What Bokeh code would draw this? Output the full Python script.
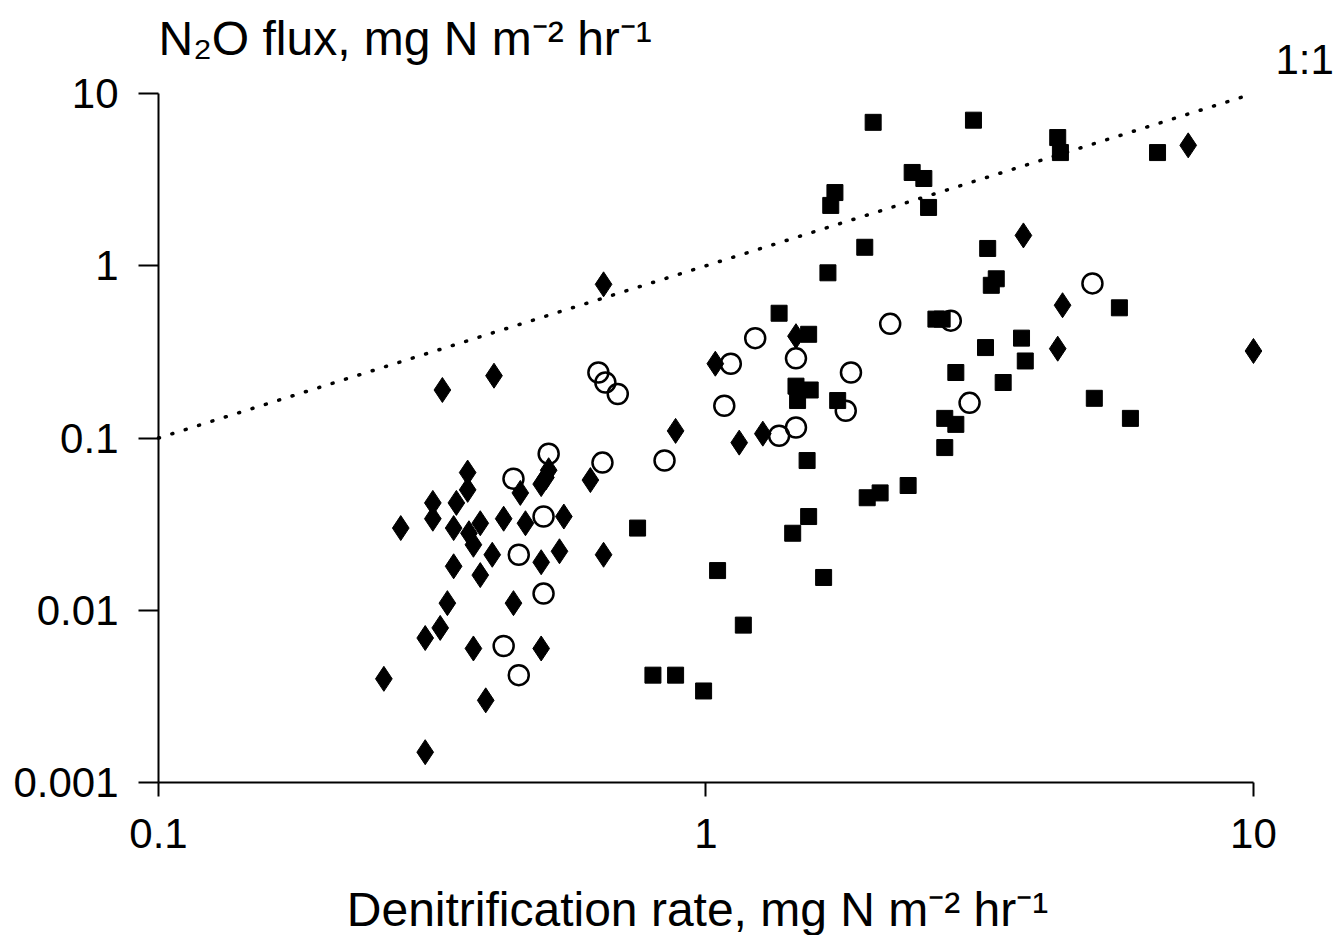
from bokeh.plotting import figure
from bokeh.models import FixedTicker, Label, ColumnDataSource
from bokeh.embed import file_html
from bokeh.resources import INLINE

# ---- data ----
square_x = [2.02, 3.08, 4.39, 4.44, 6.68, 2.38, 2.50, 1.72, 1.69, 2.55, 1.95, 3.27, 1.67, 3.39, 3.32,
            5.69, 1.36, 2.63, 2.70, 1.54, 1.46, 1.55, 1.47, 1.74, 3.24, 3.77, 3.83, 2.86, 3.49, 5.12,
            5.96, 2.73, 2.86, 2.73, 1.53, 0.75, 1.97, 2.08, 2.34, 1.54, 1.44, 1.05, 1.64, 1.17, 0.80,
            0.88, 0.99]
square_y = [6.8, 7.0, 5.55, 4.54, 4.54, 3.48, 3.21, 2.66, 2.24, 2.18, 1.28, 1.26, 0.91, 0.84, 0.77,
            0.57, 0.53, 0.49, 0.49, 0.40, 0.20, 0.19, 0.165, 0.165, 0.335, 0.38, 0.28, 0.24, 0.21, 0.17,
            0.13, 0.13, 0.12, 0.088, 0.074, 0.030, 0.045, 0.048, 0.053, 0.035, 0.028, 0.017, 0.0155,
            0.0082, 0.0042, 0.0042, 0.0034]

diamond_x = [0.65, 0.33, 0.41, 7.6, 3.8, 4.48, 4.39, 10.0, 1.46, 1.04, 0.88, 1.15, 1.27, 0.615, 0.55,
             0.65, 0.54, 0.50, 0.367, 0.367, 0.35, 0.317, 0.317, 0.277, 0.346, 0.387, 0.369, 0.376,
             0.427, 0.468, 0.458, 0.50, 0.516, 0.51, 0.407, 0.346, 0.387, 0.337, 0.327, 0.307, 0.445,
             0.376, 0.50, 0.258, 0.396, 0.307]
diamond_y = [0.78, 0.19, 0.23, 5.0, 1.5, 0.59, 0.33, 0.32, 0.39, 0.27, 0.11, 0.094, 0.106, 0.057, 0.035,
             0.021, 0.022, 0.019, 0.063, 0.050, 0.042, 0.042, 0.034, 0.030, 0.030, 0.032, 0.028, 0.024,
             0.034, 0.032, 0.048, 0.054, 0.065, 0.059, 0.021, 0.018, 0.016, 0.011, 0.0079, 0.0069, 0.011,
             0.0060, 0.0060, 0.0040, 0.0030, 0.0015]

circle_x = [0.636, 0.655, 0.69, 0.647, 0.84, 1.08, 1.11, 1.23, 1.46, 1.84, 1.80, 1.46, 1.36, 2.17,
            2.80, 3.03, 5.08, 0.516, 0.445, 0.505, 0.455, 0.505, 0.427, 0.455]
circle_y = [0.24, 0.21, 0.18, 0.072, 0.074, 0.154, 0.27, 0.38, 0.29, 0.24, 0.144, 0.115, 0.103, 0.46,
            0.48, 0.16, 0.79, 0.081, 0.058, 0.035, 0.021, 0.0125, 0.0062, 0.0042]

one_to_one = [0.1, 10.0]

x_ticks = [0.1, 1, 10]
x_tick_labels = ["0.1", "1", "10"]
y_ticks = [0.001, 0.01, 0.1, 1, 10]
y_tick_labels = ["0.001", "0.01", "0.1", "1", "10"]

y_title = "N\u2082O flux, mg N m\u207b\u00b2 hr\u207b\u00b9"
x_title = "Denitrification rate, mg N m\u207b\u00b2 hr\u207b\u00b9"
line_label = "1:1"

FONT = "Liberation Sans"

# The frame covers the whole canvas; the axes are pinned at x=0.1 / y=0.001 and limited to the data
# bounds, so every free text can be placed inside the frame.
p = figure(width=1340, height=935, x_axis_type="log", y_axis_type="log",
           x_range=(0.05145, 14.42), y_range=(1.294e-4, 34.66),
           output_backend="svg", toolbar_location=None,
           min_border_left=0, min_border_right=0, min_border_top=0, min_border_bottom=0)
p.outline_line_color = None
p.xgrid.grid_line_color = None
p.ygrid.grid_line_color = None
p.background_fill_color = "white"
p.border_fill_color = "white"

for ax, ticks, labels, tout, stand, loc in ((p.xaxis[0], x_ticks, x_tick_labels, 14, 22, y_ticks[0]),
                                           (p.yaxis[0], y_ticks, y_tick_labels, 20, 20, x_ticks[0])):
    ax.fixed_location = loc
    ax.ticker = FixedTicker(ticks=ticks, minor_ticks=[])
    ax.bounds = (ticks[0], ticks[-1])
    ax.major_label_overrides = {t: l for t, l in zip(ticks, labels)}
    ax.axis_line_width = 2
    ax.axis_line_color = "black"
    ax.major_tick_line_width = 2
    ax.major_tick_line_color = "black"
    ax.major_tick_out = tout
    ax.major_tick_in = 0
    ax.minor_tick_line_color = None
    ax.major_label_text_font = FONT
    ax.major_label_text_font_size = "42px"
    ax.major_label_text_color = "black"
    ax.major_label_standoff = stand

# 1:1 line
p.line(one_to_one, one_to_one, line_color="black", line_width=3.5, line_dash="1 13", line_cap="round")

src_sq = ColumnDataSource(dict(x=square_x, y=square_y))
src_di = ColumnDataSource(dict(x=diamond_x, y=diamond_y))
src_ci = ColumnDataSource(dict(x=circle_x, y=circle_y))

p.scatter("x", "y", source=src_sq, marker="square", size=16, fill_color="black", line_color="black")
p.scatter("x", "y", source=src_di, marker="diamond", size=25, fill_color="black", line_color="black")
p.scatter("x", "y", source=src_ci, marker="circle", size=20, fill_color=None, line_color="black",
          line_width=2.5)

p.add_layout(Label(x=0.1, y=20.86, text=y_title, text_font=FONT, text_font_size="48px",
                   text_align="left", text_baseline="alphabetic", text_color="black"))
p.add_layout(Label(x=10.97, y=15.75, text=line_label, text_font=FONT, text_font_size="42px",
                   text_align="left", text_baseline="alphabetic", text_color="black"))
p.add_layout(Label(x=0.965, y=1.831e-4, text=x_title, text_font=FONT, text_font_size="48px",
                   text_align="center", text_baseline="alphabetic", text_color="black"))

open("out.html", "w").write(file_html(p, INLINE))
